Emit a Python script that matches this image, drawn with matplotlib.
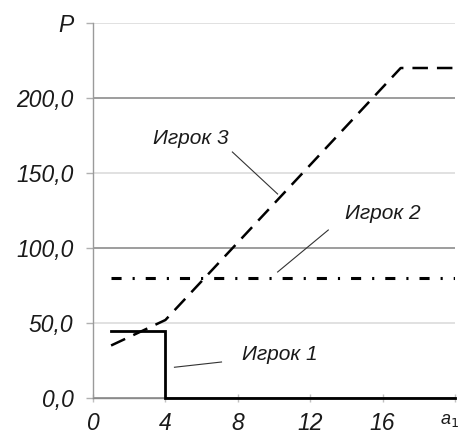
import matplotlib
matplotlib.use("Agg")
import matplotlib.pyplot as plt
from matplotlib.transforms import ScaledTranslation

# ---- data ----
x_p1 = [1, 4, 4, 20]
y_p1 = [45, 45, 0, 0]
x_p2 = [1, 20]
y_p2 = [80, 80]
x_p3 = [1, 4, 17, 20]
y_p3 = [35, 52, 220, 220]

xticks = [0, 4, 8, 12, 16, 20]
xtick_labels = ["0", "4", "8", "12", "16", "a$_1$"]
yticks = [0, 50, 100, 150, 200, 250]
ytick_labels = ["0,0", "50,0", "100,0", "150,0", "200,0", "P"]

labels = ["Игрок 1", "Игрок 2", "Игрок 3"]
label_pos = [(10.3, 29), (16.0, 123), (5.4, 173)]
leader_from = [(7.1, 24), (13.0, 112), (7.7, 164)]
leader_to = [(4.5, 20.5), (10.2, 84), (10.2, 136)]

plt.rcParams['font.family'] = ['Liberation Sans', 'DejaVu Sans']

fig = plt.figure(figsize=(4.6, 4.37), dpi=100)
ax = fig.add_axes([93/460, 1-398/437, (455-93)/460, (398-23)/437])

ax.set_xlim(0, 20)
ax.set_ylim(0, 250)

ax.set_yticks(yticks)
ax.set_yticklabels(ytick_labels)
ax.set_xticks(xticks)
ax.set_xticklabels(xtick_labels)

for s in ["top", "right"]:
    ax.spines[s].set_visible(False)
ax.spines["left"].set_color("#9a9a9a")
ax.spines["left"].set_linewidth(1.0)
ax.spines["bottom"].set_color("#8a8a8a")
ax.spines["bottom"].set_linewidth(1.0)

ax.yaxis.grid(True, linewidth=1.2)
gl = ax.get_ygridlines()
for val, line in zip(yticks, gl):
    if val % 100 == 0:
        line.set_color("#8c8c8c")
    else:
        line.set_color("#dcdcdc")
ax.set_axisbelow(True)

ax.tick_params(axis="y", length=5, width=1, color="#b0b0b0", pad=9,
               labelsize=16.5, labelcolor="#1a1a1a")
ax.tick_params(axis="x", direction="inout", length=6, width=1, color="#c0c0c0",
               pad=7, labelsize=16.5, labelcolor="#1a1a1a")
for t in ax.get_xticklabels() + ax.get_yticklabels():
    t.set_fontstyle("italic")
last = ax.get_xticklabels()[-1]
last.set_fontsize(13)
last.set_horizontalalignment("right")
last.set_transform(last.get_transform() + ScaledTranslation(4/100, 0, fig.dpi_scale_trans))

ax.plot(x_p1, y_p1, color="black", lw=2.0, solid_joinstyle="miter", clip_on=False, zorder=3)
ax.plot(x_p2, y_p2, color="black", lw=2.2, dashes=(3.3, 3.6, 0.7, 3.6), zorder=3)
ax.plot(x_p3, y_p3, color="black", lw=1.8, dashes=(6.2, 3.6), zorder=3)

for lab, pos, a, b in zip(labels, label_pos, leader_from, leader_to):
    ax.text(pos[0], pos[1], lab, ha="center", va="center", fontsize=15,
            fontstyle="italic", color="#1a1a1a")
    ax.plot([a[0], b[0]], [a[1], b[1]], color="#333333", lw=0.8, zorder=4)

fig.savefig("out.png", dpi=100)
